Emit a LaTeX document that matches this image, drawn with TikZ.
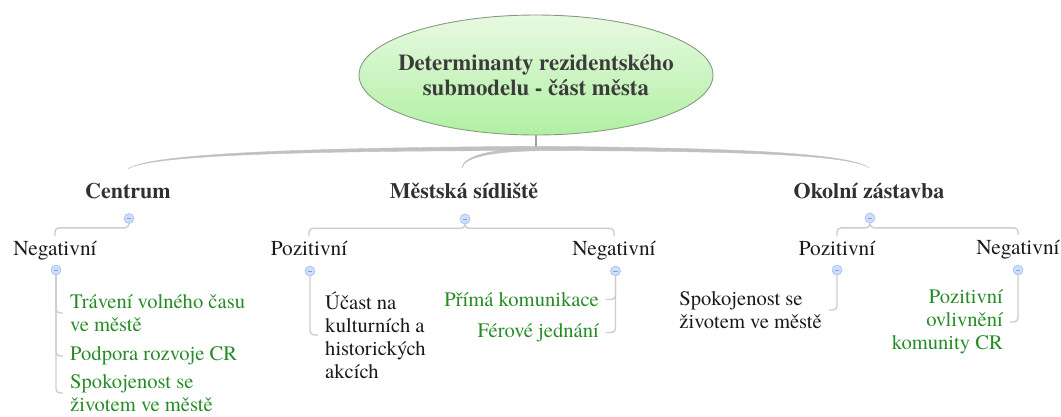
\documentclass[tikz,border=0pt]{standalone}
\usepackage{fontspec}
\setmainfont{TeX Gyre Termes}
\usetikzlibrary{shapes.geometric,calc}
\definecolor{leafgreen}{RGB}{38,140,38}
\definecolor{linegray}{RGB}{205,205,205}
\definecolor{branchgray}{RGB}{192,192,192}
\definecolor{stemgray}{RGB}{160,160,160}
\definecolor{btnfill}{RGB}{206,221,250}
\definecolor{btndraw}{RGB}{165,188,240}
\definecolor{btnminus}{RGB}{140,160,210}
\definecolor{rootborder}{RGB}{135,155,130}
\definecolor{rootTop}{RGB}{232,249,226}
\definecolor{rootBottom}{RGB}{176,240,162}
\definecolor{roottext}{RGB}{60,60,60}
\definecolor{headtext}{RGB}{48,48,48}
\definecolor{subtext}{RGB}{25,25,25}
\begin{document}
\begin{tikzpicture}[x=1pt,y=-1pt,
  rootnode/.style={ellipse, draw=rootborder, line width=0.9pt, top color=rootTop, bottom color=rootBottom,
    minimum width=354pt, minimum height=120pt, inner xsep=-40pt, inner ysep=-10pt, align=center, text=roottext,
    font=\rmfamily\bfseries\fontsize{22.8}{24.5}\selectfont},
  headnode/.style={font=\rmfamily\bfseries\fontsize{22}{26}\selectfont, text=headtext, text height=15pt, text depth=5pt,
    inner xsep=2pt, inner ysep=4pt},
  subnode/.style={font=\rmfamily\fontsize{21.3}{25}\selectfont, text=subtext, text height=15pt, text depth=5pt,
    inner xsep=2pt, inner ysep=4pt},
  leaf/.style={font=\rmfamily\fontsize{20.6}{23}\selectfont, text=subtext, inner xsep=7pt, inner ysep=0pt},
  greenleaf/.style={leaf, text=leafgreen},
  toggle/.style={circle, minimum size=10pt, inner sep=0pt, fill=btnfill, draw=btndraw, line width=0.6pt,
    path picture={\draw[draw=btnminus, line width=0.8pt]
      ([xshift=-2.2pt]path picture bounding box.center) -- ([xshift=2.2pt]path picture bounding box.center);}},
  conn/.style={draw=linegray, line width=1.4pt, rounded corners=4pt},
  branch/.style={fill=branchgray, draw=branchgray, line width=0.4pt},
]
\useasboundingbox (0,0) rectangle (1061,416);

% root topic
\node[rootnode] (root) at (536,75) {Determinanty rezidentského\\submodelu - část města};
\coordinate (hub) at ($(root.south)+(0,13)$);

% main topics
\node[headnode] (cen) at (128,193) {Centrum};
\node[headnode] (mes) at (464,193) {Městská sídliště};
\node[headnode] (oko) at (869,193) {Okolní zástavba};
\node[toggle] (bC) at (129,218.5) {};
\node[toggle] (bM) at (465,219) {};
\node[toggle] (bO) at (870,218) {};

\coordinate (endC) at ($(cen.north)+(0,-10)$);
\coordinate (endM) at ($(mes.north)+(-2,-11)$);
\coordinate (endO) at ($(oko.north)+(0,-11)$);

% tapered branches from the root
\draw[draw=stemgray, line width=1.2pt] (root.south) -- (hub);
\filldraw[branch] ($(hub)+(0,-2.2)$) .. controls +(-200,1.5) and +(25,-17) .. (endC)
  .. controls +(22,-15) and +(-200,0) .. ($(hub)+(0,2.2)$) -- cycle;
\filldraw[branch] ($(hub)+(0,-2.2)$) .. controls +(180,1.5) and +(-22,-16) .. (endO)
  .. controls +(-19,-14) and +(180,0) .. ($(hub)+(0,2.2)$) -- cycle;
\filldraw[branch] ($(hub)+(0,0)$) .. controls +(-42,0.5) and +(2,-13) .. (endM)
  .. controls +(1.5,-11) and +(-40,0.5) .. ($(hub)+(0,2.4)$) -- cycle;

% second level
\node[subnode] (cNeg) at (55,250) {Negativní};
\node[subnode] (mPoz) at (309,250) {Pozitivní};
\node[subnode] (mNeg) at (614,250) {Negativní};
\node[subnode] (oPoz) at (837,250) {Pozitivní};
\node[subnode] (oNeg) at (1018,249) {Negativní};
\node[toggle] (bNC) at (56,270) {};
\node[toggle] (bMP) at (310,271) {};
\node[toggle] (bMN) at (615.5,271) {};
\node[toggle] (bOP) at (837,270) {};
\node[toggle] (bON) at (1018,270) {};

\draw[conn] (bC.south) -- ++(0,4) -| (cNeg.north);
\draw[conn] (bM.south) -- ++(0,4) -| (mPoz.north);
\draw[conn] (bM.south) -- ++(0,4) -| (mNeg.north);
\draw[conn] (bO.south) -- ++(0,4.5) -| (oPoz.north);
\draw[conn] (bO.south) -- ++(0,4.5) -| (oNeg.north);

% leaves: Centrum
\node[greenleaf, anchor=west, align=left] (cL1) at (63,313) {Trávení volného času\\ve městě};
\node[greenleaf, anchor=west] (cL2) at (63,356) {Podpora rozvoje CR};
\node[greenleaf, anchor=west, align=left] (cL3) at (63,393) {Spokojenost se\\životem ve městě};
\draw[conn] (bNC.south) |- (cL1.west);
\draw[conn] (bNC.south) |- (cL2.west);
\draw[conn] (bNC.south) |- (cL3.west);

% leaves: Městská sídliště
\node[leaf, anchor=west, align=left] (mL1) at (318,335) {Účast na\\kulturních a\\historických\\akcích};
\draw[conn] (bMP.south) |- (mL1.west);
\node[greenleaf, anchor=east] (mL2) at (606,299.5) {Přímá komunikace};
\node[greenleaf, anchor=east] (mL3) at (606,332.5) {Férové jednání};
\draw[conn] (bMN.south) |- (mL2.east);
\draw[conn] (bMN.south) |- (mL3.east);

% leaves: Okolní zástavba
\node[leaf, anchor=east, align=left] (oL1) at (829,310) {Spokojenost se\\životem ve městě};
\draw[conn] (bOP.south) |- (oL1.east);
\node[greenleaf, anchor=east, align=right] (oL2) at (1010,322) {Pozitivní\\ovlivnění\\komunity CR};
\draw[conn] (bON.south) |- (oL2.east);
\end{tikzpicture}
\end{document}
